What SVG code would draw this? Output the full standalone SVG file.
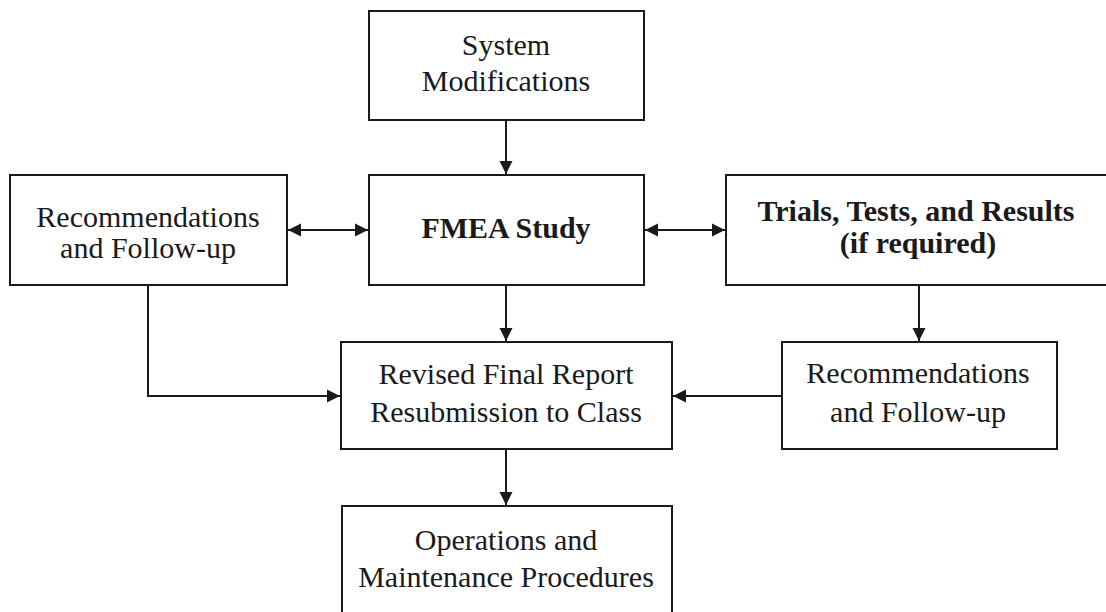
<svg xmlns="http://www.w3.org/2000/svg" width="1106" height="612" viewBox="0 0 1106 612">
<defs>
<style>
.box{fill:#fff;stroke:#1a1a1a;stroke-width:2}
.t{font-family:"Liberation Serif","Times New Roman",serif;font-size:30px;fill:#1a1a1a;text-anchor:middle}
.b{font-weight:bold}
.c{fill:none;stroke:#1a1a1a;stroke-width:2}
</style>
<marker id="ah" markerUnits="userSpaceOnUse" markerWidth="14" markerHeight="14" refX="13" refY="7" orient="auto-start-reverse" viewBox="0 0 14 14">
<path d="M0,0.5 L13,7 L0,13.5 z" fill="#1a1a1a"/>
</marker>
</defs>
<rect width="1106" height="612" fill="#fff"/>
<g id="connectors">
<line class="c" x1="506" y1="120" x2="506" y2="174" marker-end="url(#ah)"/>
<line class="c" x1="288" y1="230" x2="368" y2="230" marker-start="url(#ah)" marker-end="url(#ah)"/>
<line class="c" x1="645" y1="230" x2="725" y2="230" marker-start="url(#ah)" marker-end="url(#ah)"/>
<line class="c" x1="506" y1="285" x2="506" y2="341" marker-end="url(#ah)"/>
<polyline class="c" points="148,285 148,396 340,396" marker-end="url(#ah)"/>
<line class="c" x1="919" y1="285" x2="919" y2="341" marker-end="url(#ah)"/>
<line class="c" x1="782" y1="396" x2="673" y2="396" marker-end="url(#ah)"/>
<line class="c" x1="506" y1="449" x2="506" y2="505" marker-end="url(#ah)"/>
</g>
<g id="system">
<rect class="box" x="369" y="11" width="275" height="109"/>
<text class="t" x="506" y="55">System</text>
<text class="t" x="506" y="91">Modifications</text>
</g>
<g id="fmea">
<rect class="box" x="369" y="175" width="275" height="110"/>
<text class="t b" x="506" y="238">FMEA Study</text>
</g>
<g id="rec-left">
<rect class="box" x="10" y="175" width="277" height="110"/>
<text class="t" x="148" y="227">Recommendations</text>
<text class="t" x="148" y="258">and Follow-up</text>
</g>
<g id="trials">
<rect class="box" x="726" y="175" width="390" height="110"/>
<text class="t b" x="916" y="221">Trials, Tests, and Results</text>
<text class="t b" x="918" y="253">(if required)</text>
</g>
<g id="revised">
<rect class="box" x="341" y="342" width="331" height="107"/>
<text class="t" x="506" y="384">Revised Final Report</text>
<text class="t" x="506" y="422">Resubmission to Class</text>
</g>
<g id="rec-right">
<rect class="box" x="782" y="342" width="275" height="107"/>
<text class="t" x="918" y="383">Recommendations</text>
<text class="t" x="918" y="422">and Follow-up</text>
</g>
<g id="operations">
<rect class="box" x="342" y="506" width="330" height="120"/>
<text class="t" x="506" y="550">Operations and</text>
<text class="t" x="506" y="587">Maintenance Procedures</text>
</g>
</svg>
